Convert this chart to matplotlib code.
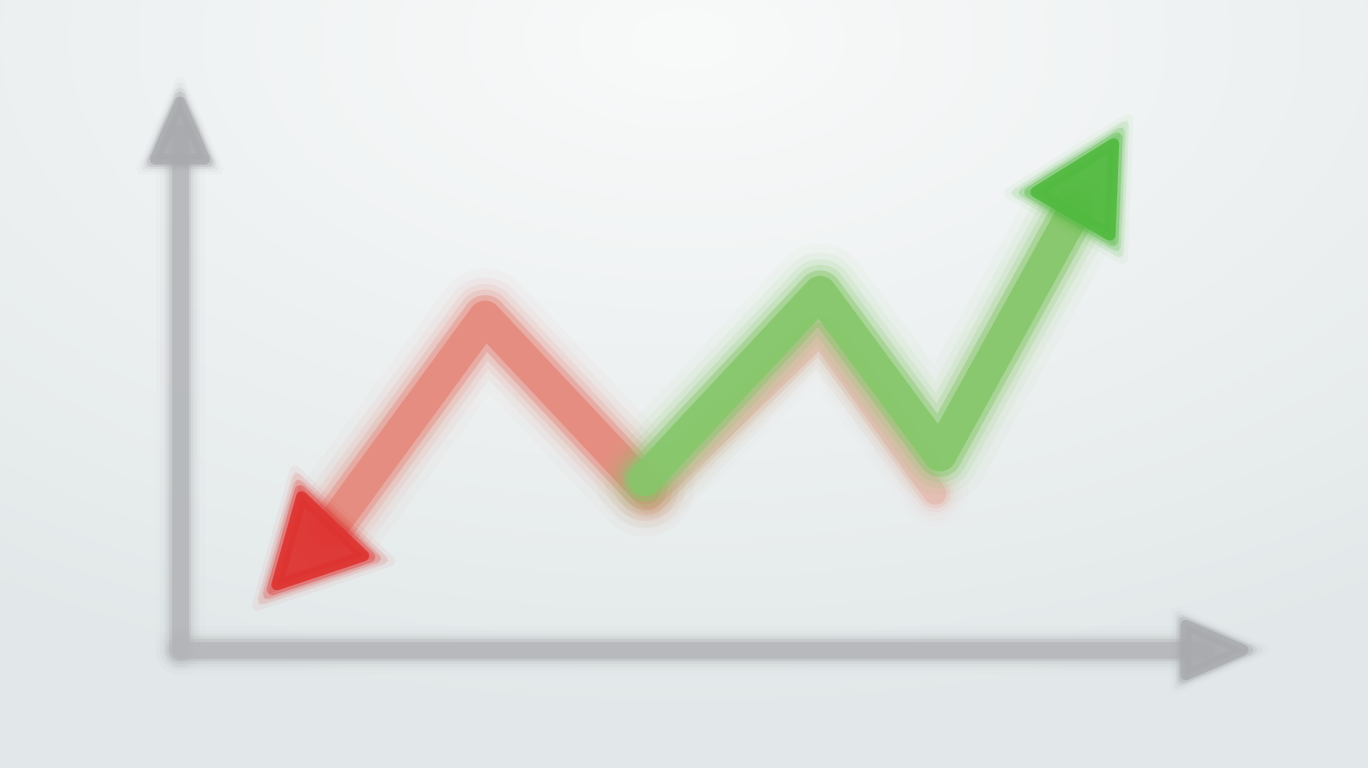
import numpy as np
import matplotlib
matplotlib.use("Agg")
import matplotlib.pyplot as plt
from matplotlib.patches import Polygon

# ---- data (chart units: x along time axis, y value) ----
red_x = [1.5, 3.05, 4.65]
red_y = [2.2, 6.05, 2.95]
red_tip = (0.95, 1.15)

green_x = [4.65, 6.4, 7.6, 8.95]
green_y = [3.1, 6.5, 3.55, 8.0]
green_tip = (9.35, 9.25)

shadow_x = [4.7, 6.4, 7.55]
shadow_y = [2.75, 5.75, 2.85]

axis_x_end = 10.65
axis_y_end = 10.0

fig = plt.figure(figsize=(13.68, 7.68), dpi=100)
ax = fig.add_axes([0, 0, 1, 1])
ax.set_xlim(-1.8, 11.88)
ax.set_ylim(-2.145, 11.82)
ax.axis("off")

# background radial gradient
H, W = 384, 684
yy, xx = np.mgrid[0:H, 0:W]
cx, cy = W * 0.5, H * 0.05
d = np.sqrt(((xx - cx) / W) ** 2 + ((yy - cy) / H) ** 2)
t = np.clip(d / 0.9, 0, 1)
c0 = np.array([249, 250, 250]) / 255
c1 = np.array([226, 232, 233]) / 255
img = c0[None, None, :] * (1 - t[..., None]) + c1[None, None, :] * t[..., None]
ax.imshow(img, extent=(-1.8, 11.88, -2.145, 11.82), origin="upper", aspect="auto", zorder=0)

def soft_line(xs, ys, color, width, z, alpha=1.0):
    for mult, a in [(2.2, 0.04), (1.8, 0.07), (1.5, 0.12), (1.25, 0.2), (1.0, 0.45), (0.75, 0.9)]:
        ax.plot(xs, ys, color=color, lw=width * mult, alpha=a * alpha,
                solid_capstyle="round", solid_joinstyle="round", zorder=z)

def soft_head(start, tip, color, length, width, z, alpha=1.0):
    p0 = ax.transData.transform(start)
    p1 = ax.transData.transform(tip)
    v = p1 - p0
    v = v / np.linalg.norm(v)
    n = np.array([-v[1], v[0]])
    base = p1 - v * length
    tri = np.array([p1, base + n * width / 2, base - n * width / 2])
    cen = tri.mean(axis=0)
    for mult, a in [(1.45, 0.05), (1.3, 0.1), (1.17, 0.18), (1.07, 0.35), (0.95, 0.9)]:
        pts = cen + (tri - cen) * mult
        pts_d = ax.transData.inverted().transform(pts)
        ax.add_patch(Polygon(pts_d, closed=True, facecolor=color, edgecolor=color,
                             lw=8, joinstyle="round", alpha=a * alpha, zorder=z))

# axes lines
ax_col = "#b3b5b8"
soft_line([0, 0], [0, axis_y_end - 0.6], ax_col, 16, 2, 0.85)
soft_line([0, axis_x_end - 0.4], [0, 0], ax_col, 16, 2, 0.85)
soft_head((0, 0), (0, axis_y_end), "#a8aaad", 60, 52, 3, 0.85)
soft_head((0, 0), (axis_x_end, 0), "#a8aaad", 60, 52, 3, 0.85)

# faded shadow line under green
soft_line(shadow_x, shadow_y, "#e9b0a8", 22, 3, 0.6)

# red line
soft_line(red_x, red_y, "#e68a7e", 32, 4)
soft_head((red_x[0], red_y[0]), red_tip, "#de3431", 85, 90, 5)

# green line
soft_line(green_x, green_y, "#86c76a", 32, 6)
soft_head((green_x[-1], green_y[-1]), green_tip, "#52ba40", 85, 90, 7)

fig.savefig("out.png", dpi=100)
